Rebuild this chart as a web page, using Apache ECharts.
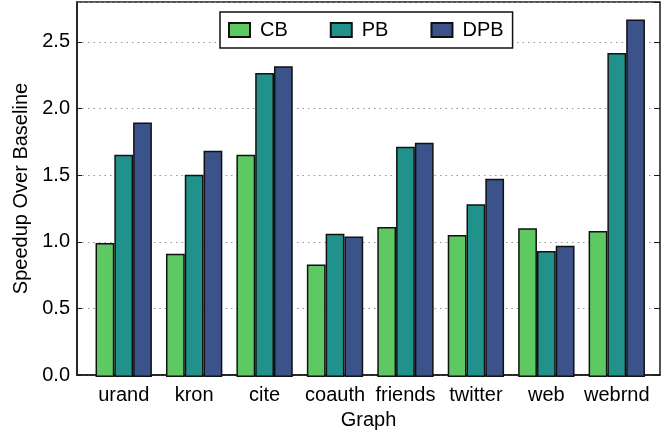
<!DOCTYPE html>
<html><head><meta charset="utf-8">
<script src="https://cdn.jsdelivr.net/npm/echarts@6/dist/echarts.min.js"></script>
<style>html,body{margin:0;padding:0;background:#fff}#c{width:667px;height:435px}</style>
</head><body><div id="c"></div>
<script>
const categories = ['urand','kron','cite','coauth','friends','twitter','web','webrnd'];
const seriesNames = ['CB','PB','DPB'];
const cbValues  = [1.00, 0.92, 1.66, 0.84, 1.12, 1.06, 1.11, 1.09];
const pbValues  = [1.66, 1.51, 2.27, 1.07, 1.72, 1.29, 0.94, 2.42];
const dpbValues = [1.90, 1.69, 2.32, 1.05, 1.75, 1.48, 0.98, 2.67];
const colors = ['#5ec962','#21918c','#3b528b'];
const yTicks = [0, 0.5, 1.0, 1.5, 2.0, 2.5];

const FONT = '"Liberation Sans", Arial, Helvetica, sans-serif';
const chart = echarts.init(document.getElementById('c'), null, {renderer:'canvas'});
const vals = [cbValues, pbValues, dpbValues];
const TOP = 2, BOTTOM = 58;
chart.setOption({
  animation:false,
  backgroundColor:'#fff',
  textStyle:{fontFamily:FONT},
  grid:[
    {left:77, right:7, top:TOP, bottom:BOTTOM, show:true, borderColor:'#1a1a1a', borderWidth:1.5, backgroundColor:'transparent'},
    {left:88.5, right:15, top:TOP, bottom:BOTTOM, show:false}
  ],
  legend:{
    data:seriesNames, left:220, top:12, orient:'horizontal',
    itemWidth:21, itemHeight:14, itemGap:42,
    padding:[8,9,8,8],
    backgroundColor:'#fff', borderColor:'#111', borderWidth:1.5, borderRadius:0,
    textStyle:{fontFamily:FONT, fontSize:20, color:'#000', padding:[0,0,0,5]},
    icon:'rect'
  },
  xAxis:[{
    gridIndex:0, type:'value', min:0, max:1,
    name:'Graph', nameLocation:'middle', nameGap:35,
    nameTextStyle:{fontFamily:FONT, fontSize:20, color:'#000'},
    axisLine:{show:true, lineStyle:{color:'#1a1a1a', width:1.5}},
    axisTick:{show:false}, axisLabel:{show:false}, splitLine:{show:false}
  },{
    gridIndex:1, type:'category', data:categories,
    axisLine:{show:false},
    axisTick:{show:false},
    axisLabel:{fontFamily:FONT, fontSize:20, color:'#000', margin:8, interval:0},
    splitLine:{show:false}
  }],
  yAxis:[{
    gridIndex:0, type:'value', min:0, max:2.8, interval:0.5,
    name:'Speedup Over Baseline', nameLocation:'middle', nameGap:42,
    nameTextStyle:{fontFamily:FONT, fontSize:20, color:'#000'},
    axisLine:{show:true, lineStyle:{color:'#1a1a1a', width:1.5}},
    axisTick:{show:true, inside:true, length:5, lineStyle:{color:'#1a1a1a'}},
    axisLabel:{fontFamily:FONT, fontSize:20, color:'#000', margin:7, showMaxLabel:false,
      formatter:function(v){ return yTicks.indexOf(+v.toFixed(2))>=0 ? v.toFixed(1) : ''; }},
    splitLine:{show:true, lineStyle:{color:'#999', type:[1.5,4], width:1}}
  },{
    gridIndex:0, type:'value', position:'right', min:0, max:2.8, interval:0.5,
    axisLine:{show:false},
    axisTick:{show:true, inside:true, length:6, lineStyle:{color:'#1a1a1a'}},
    axisLabel:{show:false},
    splitLine:{show:false}
  },{
    gridIndex:1, type:'value', min:0, max:2.8, interval:0.5, show:false
  }],
  series: seriesNames.map((n,i)=>({
    name:n, type:'bar', data:vals[i], xAxisIndex:1, yAxisIndex:2,
    barGap:'0%', barCategoryGap:'20%',
    itemStyle:{color:colors[i], borderColor:'#111', borderWidth:1.5}
  }))
});
</script></body></html>
